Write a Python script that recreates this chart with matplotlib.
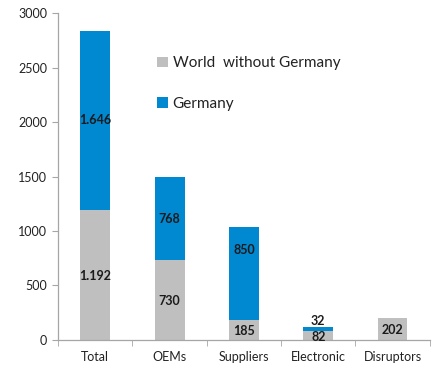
import matplotlib
matplotlib.use("Agg")
import matplotlib.pyplot as plt
import numpy as np

# values
categories = ["Total", "OEMs", "Suppliers", "Electronic", "Disruptors"]
world_wo_germany = [1192, 730, 185, 82, 202]
germany = [1646, 768, 850, 32, 0]
world_labels = ["1.192", "730", "185", "82", "202"]
germany_labels = ["1.646", "768", "850", "32", ""]

GREY = "#BFBFBF"
BLUE = "#0088D1"
AXIS = "#A6A6A6"

plt.rcParams["font.family"] = ["Lato", "DejaVu Sans"]

fig = plt.figure(figsize=(4.44, 3.76), dpi=100)
ax = fig.add_axes([0.131, 0.096, 0.837, 0.869])

x = np.arange(len(categories))
w = 0.4
ax.bar(x, world_wo_germany, w, color=GREY, label="World  without Germany")
ax.bar(x, germany, w, bottom=world_wo_germany, color=BLUE, label="Germany")

for i in range(len(categories)):
    g = world_wo_germany[i]
    d = germany[i]
    ax.text(x[i], g / 2 - 10, world_labels[i], ha="center", va="center",
            fontsize=9, fontweight="bold", color="#1a1a1a")
    if not germany_labels[i]:
        continue
    if d < 100:
        ly = g + d + 60
    elif categories[i] == "Suppliers":
        ly = g + d * 0.75
    else:
        ly = g + d / 2
    ax.text(x[i], ly, germany_labels[i], ha="center", va="center",
            fontsize=9, fontweight="bold", color="#1a1a1a")

ax.set_xlim(-0.5, len(categories) - 0.5)
ax.set_ylim(0, 3000)
ax.set_yticks(range(0, 3001, 500))
ax.set_xticks(x)
ax.set_xticklabels(categories)
ax.set_xticks(np.arange(-0.5, len(categories)), minor=True)

for s in ["top", "right"]:
    ax.spines[s].set_visible(False)
for s in ["left", "bottom"]:
    ax.spines[s].set_color(AXIS)
    ax.spines[s].set_linewidth(0.9)

ax.tick_params(axis="y", length=4, color=AXIS, labelsize=9, labelcolor="#222222", pad=4)
ax.tick_params(axis="x", which="major", length=0, labelsize=9, labelcolor="#222222", pad=8)
ax.tick_params(axis="x", which="minor", length=4, color=AXIS)

ax.legend(loc="upper left", bbox_to_anchor=(0.23, 0.91), frameon=False,
          fontsize=11, handlelength=0.7, handleheight=0.7, handletextpad=0.3,
          labelspacing=1.75, labelcolor="#222222")

fig.savefig("out.png", dpi=100)
